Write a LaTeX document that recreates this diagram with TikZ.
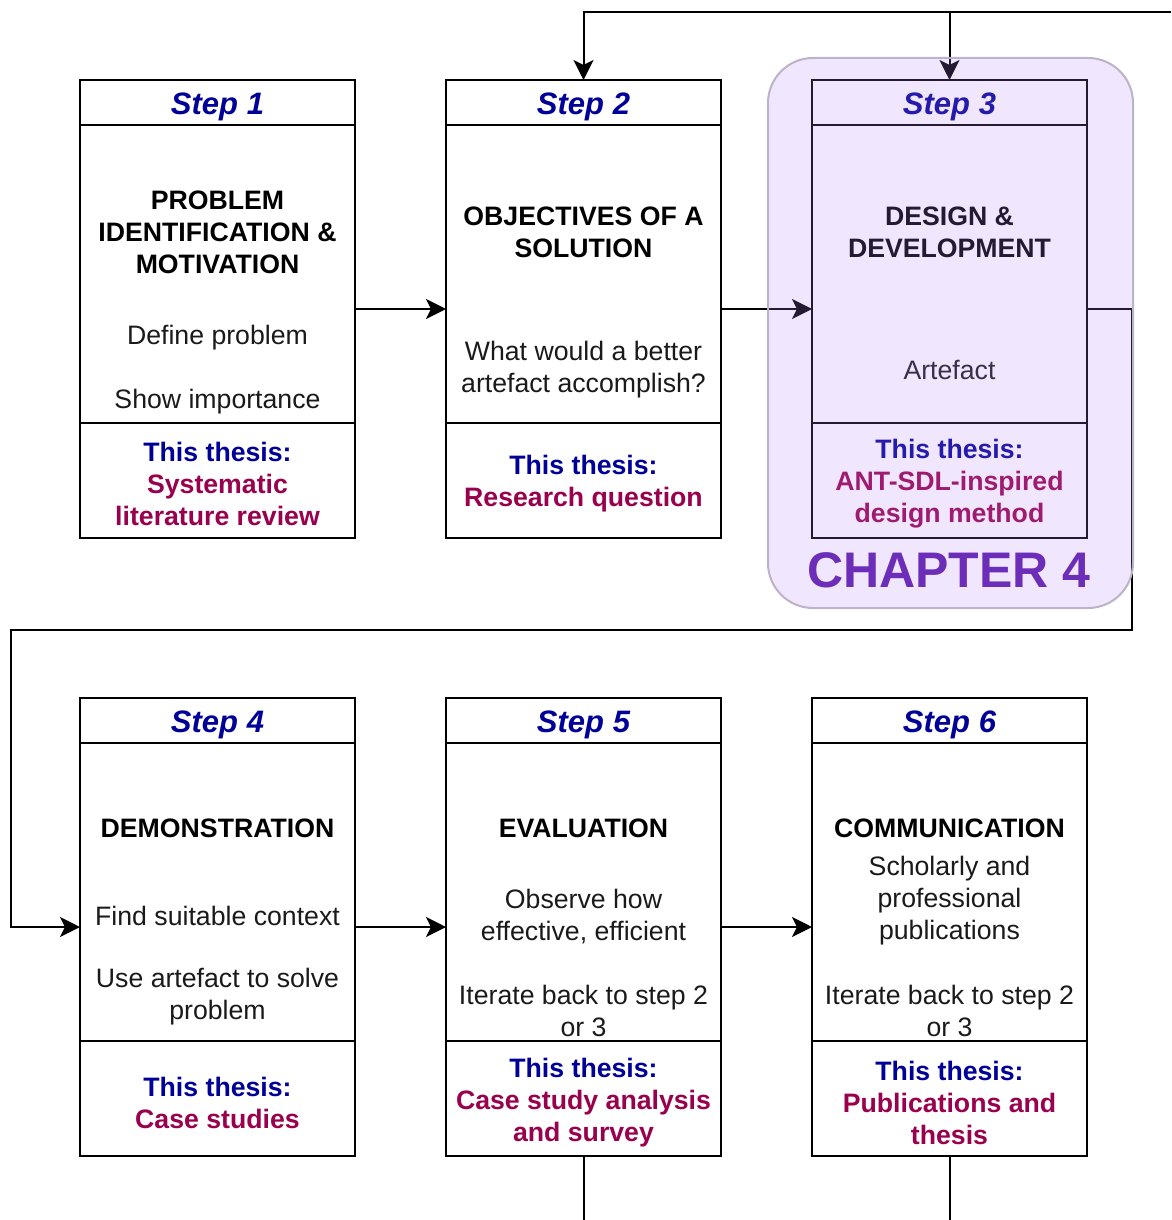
\documentclass[tikz,border=0pt]{standalone}
\usepackage{fontspec}
\setmainfont{Liberation Sans}
\usetikzlibrary{arrows.meta}

\definecolor{hdblue}{HTML}{000099}
\definecolor{thesisred}{HTML}{99004D}
\definecolor{bodytext}{HTML}{1A1A1A}
\definecolor{chapfill}{HTML}{B48AFF}
\definecolor{chapedge}{HTML}{BDB2C8}
\definecolor{chaptext}{HTML}{6C2DB8}

\tikzset{
  stepframe/.style={draw=black, line width=2pt, minimum width=275pt,
    minimum height=458pt, inner sep=0pt, outer sep=0pt, anchor=north west},
  sep/.style={line width=2pt},
  hd/.style={font=\fontsize{31}{37}\selectfont\bfseries\itshape, text=hdblue, inner sep=0pt, yshift=-3pt},
  ttl/.style={font=\fontsize{26.67}{32}\selectfont\bfseries, align=center, text=black, inner sep=0pt, yshift=-2pt},
  txt/.style={font=\fontsize{26.67}{32}\selectfont, align=center, text=bodytext, inner sep=0pt, yshift=-2pt},
  thesis/.style={font=\fontsize{26.67}{32}\selectfont\bfseries, align=center, inner sep=0pt, yshift=-2pt},
  flow/.style={line width=2pt, -{Stealth[length=20pt,width=20pt,inset=5pt]}},
  link/.style={line width=2pt},
  chapter/.style={draw=chapedge, line width=2pt, fill=chapfill, fill opacity=0.2,
    draw opacity=1, rounded corners=45pt, minimum width=365pt, minimum height=550pt,
    inner sep=0pt, anchor=north west},
}
\newcommand{\thblue}[1]{\textcolor{hdblue}{#1}}
\newcommand{\thred}[1]{\textcolor{thesisred}{#1}}

\begin{document}
\begin{tikzpicture}[x=1pt, y=-1pt]
  \useasboundingbox (0,0) rectangle (1171,1220);
  \fill[white] (0,0) rectangle (1171,1220);

  % ---- step frames ----
  \node[stepframe] (s1) at (80,80) {};
  \node[stepframe] (s2) at (446,80) {};
  \node[stepframe] (s3) at (812,80) {};
  \node[stepframe] (s4) at (80,698) {};
  \node[stepframe] (s5) at (446,698) {};
  \node[stepframe] (s6) at (812,698) {};

  % section dividers
  \foreach \s in {s1,s2,s3,s4,s5,s6} {
    \draw[sep] ([yshift=-45pt]\s.north west) -- ([yshift=-45pt]\s.north east);
    \draw[sep] ([yshift=-343pt]\s.north west) -- ([yshift=-343pt]\s.north east);
  }

  % ---- headers ----
  \foreach \s/\n in {s1/1,s2/2,s3/3,s4/4,s5/5,s6/6}
    \node[hd] (\s h) at ([yshift=-24pt]\s.north) {Step \n};

  % ---- step 1 ----
  \node[ttl] (s1t) at (217.5,230) {PROBLEM\\IDENTIFICATION \&\\MOTIVATION};
  \node[txt] (s1a) at (217.5,336) {Define problem};
  \node[txt] (s1b) at (217.5,400) {Show importance};
  \node[thesis] (s1f) at (217.5,482) {\thblue{This thesis:}\\\thred{Systematic}\\\thred{literature review}};

  % ---- step 2 ----
  \node[ttl] (s2t) at (583.5,230) {OBJECTIVES OF A\\SOLUTION};
  \node[txt] (s2a) at (583.5,368) {What would a better\\artefact accomplish?};
  \node[thesis] (s2f) at (583.5,482) {\thblue{This thesis:}\\\thred{Research question}};

  % ---- step 3 ----
  \node[ttl] (s3t) at (949.5,230) {DESIGN \&\\DEVELOPMENT};
  \node[txt] (s3a) at (949.5,368) {Artefact};
  \node[thesis] (s3f) at (949.5,482) {\thblue{This thesis:}\\\thred{ANT-SDL-inspired}\\\thred{design method}};

  % ---- step 4 ----
  \node[ttl] (s4t) at (217.5,826) {DEMONSTRATION};
  \node[txt] (s4a) at (217.5,914) {Find suitable context};
  \node[txt] (s4b) at (217.5,995) {Use artefact to solve\\problem};
  \node[thesis] (s4f) at (217.5,1101) {\thblue{This thesis:}\\\thred{Case studies}};

  % ---- step 5 ----
  \node[ttl] (s5t) at (583.5,826) {EVALUATION};
  \node[txt] (s5a) at (583.5,915) {Observe how\\effective, efficient};
  \node[txt] (s5b) at (583.5,1009) {Iterate back to step 2\\or 3};
  \node[thesis] (s5f) at (583.5,1101) {\thblue{This thesis:}\\\thred{Case study analysis}\\\thred{and survey}};

  % ---- step 6 ----
  \node[ttl] (s6t) at (949.5,826) {COMMUNICATION};
  \node[txt] (s6a) at (949.5,899) {Scholarly and\\professional\\publications};
  \node[txt] (s6b) at (949.5,1009) {Iterate back to step 2\\or 3};
  \node[thesis] (s6f) at (949.5,1101) {\thblue{This thesis:}\\\thred{Publications and}\\\thred{thesis}};

  % ---- connectors ----
  \coordinate (loopTop) at (1171,12);
  \coordinate (pageBottom) at (0,1220);
  \coordinate (wrapR) at (1132,630);
  \coordinate (wrapL) at (11,630);

  \draw[flow] (s1.east) -- (s2.west);
  \draw[flow] (s2.east) -- (s3.west);
  \draw[flow] (s4.east) -- (s5.west);
  \draw[flow] (s5.east) -- (s6.west);
  \draw[flow] (s3.east) -| (wrapR) -- (wrapL) |- (s4.west);
  \draw[flow] (loopTop) -| (s2.north);
  \draw[flow] (s3.north |- loopTop) -- (s3.north);
  \draw[link] (s5.south) -- (s5.south |- pageBottom);
  \draw[link] (s6.south) -- (s6.south |- pageBottom);

  % ---- chapter highlight over step 3 ----
  \node[chapter] (ch4) at (767,57) {};
  \node[font=\fontsize{50}{60}\selectfont\bfseries, text=chaptext, inner sep=0pt] (ch4t) at (949,570) {CHAPTER 4};
\end{tikzpicture}
\end{document}
